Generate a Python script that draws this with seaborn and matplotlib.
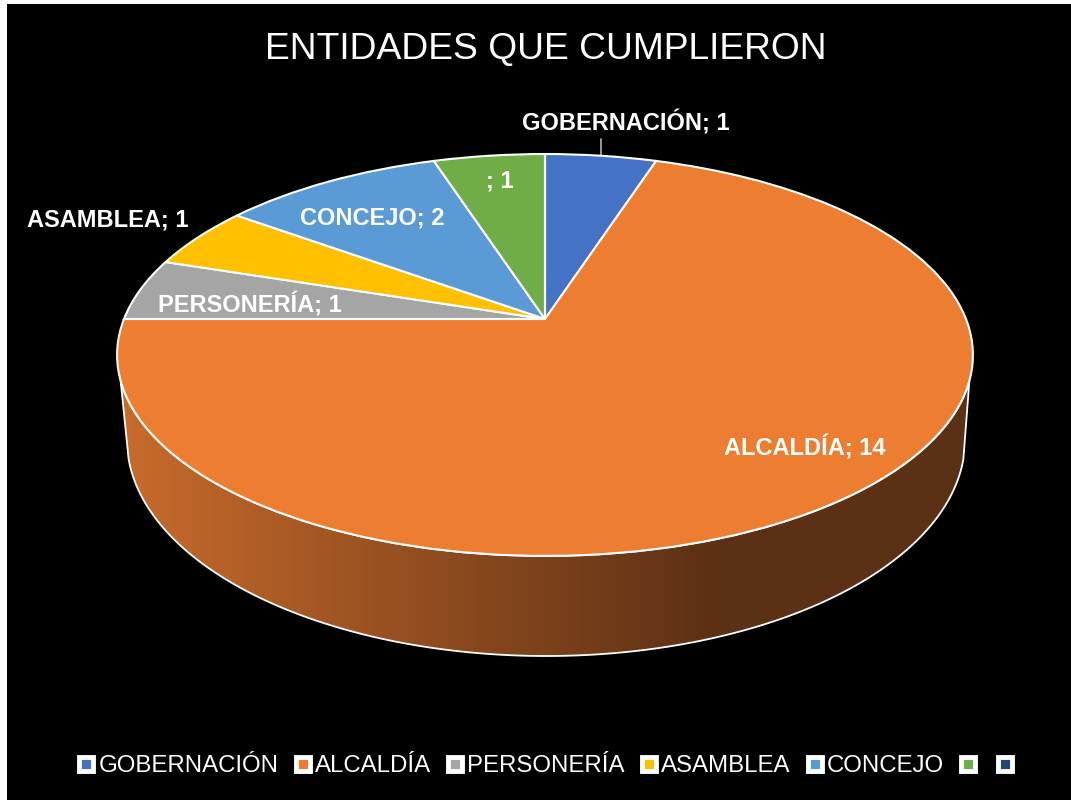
import numpy as np
import matplotlib
matplotlib.use("Agg")
import matplotlib.pyplot as plt
import seaborn as sns
from matplotlib.colors import LinearSegmentedColormap
from matplotlib.lines import Line2D
from matplotlib.patches import Polygon, Rectangle
from matplotlib.transforms import Transform

categories = ["GOBERNACIÓN", "ALCALDÍA", "PERSONERÍA", "ASAMBLEA", "CONCEJO", "", ""]
values = [1, 14, 1, 1, 2, 1, 0]
colors = ["#4472C4", "#ED7D31", "#A5A5A5", "#FFC000", "#5B9BD5", "#70AD47", "#264478"]
title = "ENTIDADES QUE CUMPLIERON"

sns.set_theme(style="white")
plt.rcParams["font.family"] = ["Liberation Sans", "DejaVu Sans"]

# perspective view of the pie's top face, in picture pixels
APEX_X, APEX_Y, SCALE_X, SCALE_Y, TILT = 545.0, 319.0, 421.0, 194.5, 0.179


class Tilted(Transform):
    input_dims = output_dims = 2

    def transform_non_affine(self, values):
        v = np.asarray(values, dtype=float)
        d = 1 + TILT * v[:, 1]
        return np.column_stack((APEX_X + SCALE_X * v[:, 0] / d,
                                APEX_Y - SCALE_Y * v[:, 1] / d))


fig = plt.figure(figsize=(10.71, 8), dpi=100, facecolor="white")
ax = fig.add_axes([0, 0, 1, 1])

palette = sns.color_palette(colors)
wedges, _ = ax.pie(values, colors=palette, startangle=90, counterclock=False,
                   wedgeprops=dict(edgecolor="white", linewidth=1.5, zorder=5))
tilted = Tilted()
for w in wedges:
    w.set_transform(tilted + ax.transData)
    w.set_clip_on(False)

ax.add_patch(Rectangle((7, 4), 1064, 796, facecolor="black", edgecolor="none", zorder=0))

# side wall of the disc
t_rim = np.radians(np.linspace(107.5, 252.5, 200))
rim = tilted.transform(np.column_stack((np.sin(t_rim), np.cos(t_rim))))
t_base = np.radians(np.linspace(265, 95, 200))
base = np.column_stack((546 + 419 * np.sin(t_base), 440 - 216 * np.cos(t_base)))
wall = Polygon(np.vstack((rim, base)), closed=True, facecolor="none",
               edgecolor="white", linewidth=1.3, zorder=3)
ax.add_patch(wall)
cmap = LinearSegmentedColormap.from_list(
    "wall", [(0.0, "#C96B2C"), (0.70, "#5C3014"), (1.0, "#5C3014")])
grad = np.linspace(0, 1, 256).reshape(1, -1)
im = ax.imshow(grad, extent=(118, 975, 660, 340), aspect="auto", cmap=cmap, zorder=2)
im.set_clip_path(wall)

ax.set_aspect("auto")
ax.set_xlim(0, 1071)
ax.set_ylim(800, 0)
ax.axis("off")

ax.text(546, 50, title, color="white", fontsize=26.85, ha="center", va="center", zorder=8)

label_style = dict(color="white", fontsize=17, fontweight="bold", ha="center",
                   va="center", zorder=8)
label_xy = [(626, 123), (805, 448), (250, 305), (108, 220), (372, 218), (500, 181)]
for name, val, (lx, ly) in zip(categories, values, label_xy):
    ax.text(lx, ly, f"{name}; {val}", **label_style)
ax.plot([601, 601], [139, 155], color="#A6A6A6", linewidth=1.3, zorder=4)

handles = [Line2D([], [], linestyle="none", marker="s", markersize=9.8,
                  markerfacecolor=c, markeredgecolor="white", markeredgewidth=3.5)
           for c in colors]
fs = 17.3
ax.legend(handles, categories, loc="center", bbox_to_anchor=(547, 766),
          bbox_transform=ax.transData, ncol=7, frameon=False, fontsize=fs,
          labelcolor="white", handlelength=13 / fs, handletextpad=2.2 / fs,
          columnspacing=11 / fs, borderpad=0, borderaxespad=0, handleheight=0.7)

fig.savefig("out.png", dpi=100, facecolor="white")
